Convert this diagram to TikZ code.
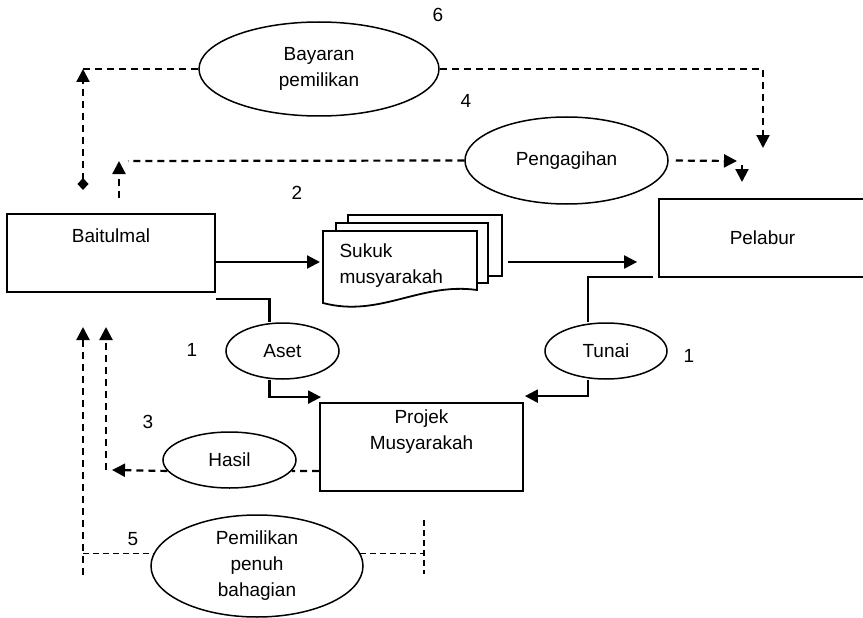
\documentclass[tikz,border=0pt]{standalone}
\usepackage{fontspec}
\setmainfont{Liberation Sans}
\usetikzlibrary{arrows.meta,shapes.geometric}

\begin{document}
\begin{tikzpicture}[x=1pt,y=-1pt,
	every node/.style={font=\fontsize{19}{26}\selectfont},
	box/.style={draw,line width=1.8pt,align=center,inner sep=0pt},
	oval/.style={draw,ellipse,line width=1.5pt,align=center,inner sep=0pt},
	conn/.style={line width=2.2pt},
	flow/.style={conn,-{Triangle[length=13pt,width=13pt]}},
	dline/.style={conn,dash pattern=on 7pt off 5pt},
	dflow/.style={flow,dash pattern=on 7pt off 5pt},
	thindash/.style={line width=1.3pt,dash pattern=on 6pt off 4pt},
	doc/.style={line width=1.8pt,fill=white}]
	\useasboundingbox (0,0) rectangle (863,618);

	\node[box,minimum width=208pt,minimum height=78pt] (baitulmal) at (111,253) {Baitulmal\\\strut};
	\node[box,minimum width=207pt,minimum height=78pt] (pelabur) at (762.5,238) {Pelabur};
	\node[box,minimum width=203pt,minimum height=88pt] (projek) at (421.5,447) {Projek\\Musyarakah\\\strut};

	\node[oval,minimum width=240pt,minimum height=94pt] (bayaran) at (319,69) {Bayaran\\pemilikan};
	\node[oval,minimum width=203pt,minimum height=87pt] (pengagihan) at (566.5,160.5) {Pengagihan};
	\node[oval,minimum width=113pt,minimum height=56pt] (aset) at (282.5,351) {Aset};
	\node[oval,minimum width=122pt,minimum height=56pt] (tunai) at (606,351) {Tunai};
	\node[oval,minimum width=133pt,minimum height=56pt] (hasil) at (229.5,460) {Hasil};
	\node[oval,minimum width=212pt,minimum height=102pt] (pemilikan) at (257,566) {Pemilikan\\penuh\\bahagian};

	% sukuk
	\draw[doc] (348,223) -- (348,215) -- (502,215) -- (502,276) -- (488,276);
	\draw[doc] (336,231) -- (336,223) -- (488,223) -- (488,283) -- (477,283);
	\draw[doc] (323,303) -- (323,231) -- (477,231) -- (477,290) .. controls (420,282) and (380,318) .. cycle;
	\node[anchor=west,align=left] (sukuk) at (336,266) {Sukuk\\musyarakah};

	\node (n6) at (438,15) {6};
	\node (n4) at (466,101) {4};
	\node (n2) at (297,193) {2};
	\node (n1) at (192,350) {1};
	\node (n1b) at (689,356) {1};
	\node (n3) at (148,422) {3};
	\node (n5) at (133,539) {5};

	\coordinate (d6) at (83,190);
	\coordinate (b6) at (763,148);
	\coordinate (p4) at (119,198);
	\coordinate (p4c) at (128,161);
	\coordinate (p4r) at (737,161);
	\coordinate (p4d) at (742,182);
	\coordinate (docin) at (320,262);
	\coordinate (docout) at (508,262);
	\coordinate (ba) at (216,299);
	\coordinate (pb) at (653,277);
	\coordinate (h3) at (106,470);
	\coordinate (h3top) at (106,327);
	\coordinate (p5) at (83,575);
	\coordinate (p5top) at (83,327);
	\coordinate (p5r) at (424,520);
	\coordinate (p5rb) at (424,574);

	\draw[dline] (bayaran.west) -- (d6 |- bayaran.west);
	\draw[conn,dash pattern=on 7pt off 5pt,{Diamond[length=12pt,width=11pt]}-{Triangle[length=13pt,width=13pt]}] (d6) -- (d6 |- bayaran.west);
	\draw[dflow] (bayaran.east) -| (b6);

	\draw[dline] (pengagihan.west) -- (p4c);
	\draw[dflow] (p4) -- (p4 |- p4c);
	\draw[dflow,shorten <=7pt] (pengagihan.east) -- (p4r);
	\draw[flow] ([xshift=5pt,yshift=-4pt]p4r) -- (p4d);

	\draw[flow] ([yshift=-9pt]baitulmal.east) -- (docin);
	\draw[flow,shorten >=21pt] (docout) -- (pelabur.west |- docout);

	\draw[conn] (ba) -| ([xshift=-13pt]aset.north);
	\draw[flow] ([xshift=-13pt]aset.south) |- ([xshift=2pt,yshift=5pt]projek.north west);
	\draw[conn] (pb) -| ([xshift=-18pt]tunai.north);
	\draw[flow] ([xshift=-18pt]tunai.south) |- ([xshift=1pt,yshift=6pt]projek.north east);

	\draw[dline] ([yshift=-24pt]projek.west) -- (hasil.-10);
	\draw[dflow] (hasil.190) -- ([xshift=6pt]h3);
	\draw[dflow] (h3) -- (h3top);

	\draw[dflow] (p5) -- (p5top);
	\draw[thindash] (p5 |- pemilikan.173) -- (pemilikan.173);
	\draw[thindash] (pemilikan.7) -- (p5r |- pemilikan.7);
	\draw[thindash] (p5r) -- (p5rb);
\end{tikzpicture}
\end{document}
